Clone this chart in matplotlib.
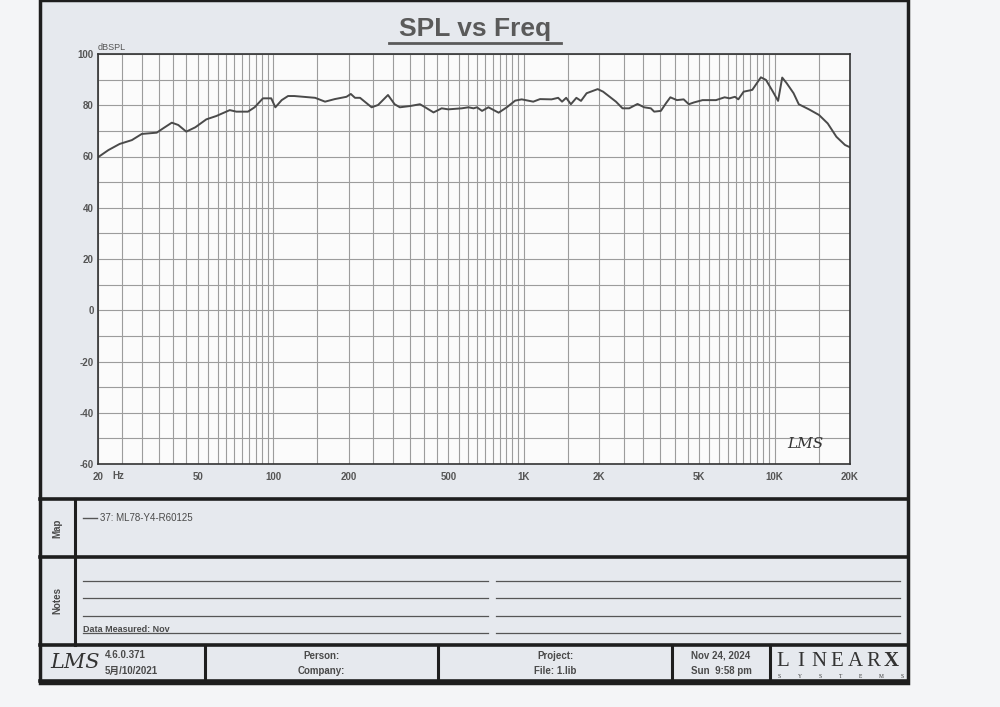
import matplotlib.pyplot as plt
from matplotlib.patches import Rectangle

# SPL curve (Hz, dBSPL)
freq = [20, 22, 24.4, 27.3, 29.9, 34.3, 36.4, 39.4, 41.8, 45, 48.9, 54.1, 59.3,
        67.1, 71.3, 79.3, 84.3, 91, 98.2, 102, 108.1, 114.6, 121.4, 147, 161,
        176, 196, 204, 212, 222, 247, 262, 287, 305, 320, 352, 385, 404, 436,
        470, 499, 565, 601, 630, 650, 681, 722, 793, 855, 923, 980, 1090,
        1160, 1290, 1370, 1420, 1475, 1540, 1620, 1690, 1780, 1970, 2070, 2200,
        2330, 2475, 2630, 2840, 3020, 3210, 3310, 3520, 3690, 3840, 4080, 4340,
        4550, 4770, 5160, 5840, 6320, 6620, 6950, 7170, 7530, 8150, 8820, 9240,
        9850, 10330, 10730, 11180, 11910, 12490, 13720, 15050, 16300, 17650,
        19100, 20000]
spl = [59.7, 62.5, 64.9, 66.4, 68.8, 69.3, 71.0, 73.2, 72.3, 69.7, 71.4, 74.5,
       75.8, 78.1, 77.5, 77.5, 79.2, 82.7, 82.7, 79.2, 82.0, 83.6, 83.6, 82.9,
       81.4, 82.4, 83.3, 84.4, 82.9, 82.9, 79.2, 80.1, 84.0, 80.4, 79.2, 79.7,
       80.4, 79.2, 77.2, 78.8, 78.4, 78.8, 79.2, 78.8, 79.2, 77.8, 79.2, 77.1,
       79.2, 81.8, 82.3, 81.4, 82.4, 82.3, 82.9, 81.4, 82.9, 80.4, 82.9, 81.7,
       84.7, 86.3, 85.3, 83.3, 81.4, 78.8, 78.8, 80.5, 79.2, 78.8, 77.5, 77.8,
       80.8, 83.1, 82.0, 82.3, 80.4, 81.1, 82.0, 82.0, 83.1, 82.7, 83.3, 82.3,
       85.3, 86.0, 90.9, 89.9, 85.3, 81.7, 90.8, 88.6, 84.7, 80.4, 78.4, 76.2,
       72.9, 67.7, 64.5, 63.6]

grid_freqs = ([f for f in range(25, 101, 5)] + [f for f in range(150, 1001, 50)]
              + [f for f in range(1500, 10001, 500)] + [15000])
xtick_vals = [20, 50, 100, 200, 500, 1000, 2000, 5000, 10000, 20000]
xtick_text = ['20', '50', '100', '200', '500', '1K', '2K', '5K', '10K', '20K']
ytick_vals = [-60, -40, -20, 0, 20, 40, 60, 80, 100]

W, H = 1000, 707
fig = plt.figure(figsize=(10, 7.07), dpi=100)
fig.patch.set_facecolor('#f4f5f7')

# page overlay in pixel coordinates
bg = fig.add_axes([0, 0, 1, 1], zorder=-1)
bg.set_xlim(0, W)
bg.set_ylim(H, 0)
bg.axis('off')
bg.add_patch(Rectangle((40, 0), 868, 683, facecolor='#e6e9ee', edgecolor='#1e1e1e', lw=2.5))

dark = '#1e1e1e'
txt = '#4a4a4a'
for y in [499, 557, 645]:
    bg.plot([40, 908], [y, y], color=dark, lw=2.6)
bg.plot([40, 908], [681, 681], color=dark, lw=2.6)
bg.plot([75, 75], [499, 645], color=dark, lw=2.2)
for x in [205, 438, 672, 770]:
    bg.plot([x, x], [645, 681], color=dark, lw=2.2)

# title
bg.text(475, 29, 'SPL vs Freq', ha='center', va='center', fontsize=19,
        fontweight='bold', color='#5a5a5a', family='Liberation Sans')
bg.plot([389, 561], [43, 43], color='#5a5a5a', lw=2.0)

# map / notes panels
bg.text(57, 528, 'Map', rotation=90, ha='center', va='center', fontsize=7,
        fontweight='bold', color=txt, family='Liberation Sans')
bg.text(57, 601, 'Notes', rotation=90, ha='center', va='center', fontsize=7,
        fontweight='bold', color=txt, family='Liberation Sans')
bg.plot([83, 97], [518, 518], color='#555555', lw=1)
bg.text(100, 518, '37: ML78-Y4-R60125', ha='left', va='center', fontsize=7,
        color=txt, family='Liberation Sans')
for y in [581, 598, 616, 633]:
    bg.plot([83, 488], [y, y], color='#555555', lw=0.9)
    bg.plot([496, 900], [y, y], color='#555555', lw=0.9)
bg.text(83, 629, 'Data Measured: Nov', ha='left', va='center', fontsize=6.5,
        fontweight='bold', color=txt, family='Liberation Sans')

# footer
bg.text(50, 663, 'LMS', ha='left', va='center', fontsize=15, style='italic',
        color='#333333', family='DejaVu Serif')
bg.text(105, 655, '4.6.0.371', ha='left', va='center', fontsize=7,
        fontweight='bold', color=txt, family=['Liberation Sans', 'Noto Sans CJK SC'])
bg.text(105, 671, '5月/10/2021', ha='left', va='center', fontsize=7,
        fontweight='bold', color=txt, family=['Liberation Sans', 'Noto Sans CJK SC'])
for x, a, b in [(321, 'Person:', 'Company:'), (555, 'Project:', 'File: 1.lib'),
                (721, 'Nov 24, 2024', 'Sun  9:58 pm')]:
    bg.text(x, 656, a, ha='center', va='center', fontsize=7, fontweight='bold',
            color=txt, family='Liberation Sans')
    bg.text(x, 671, b, ha='center', va='center', fontsize=7, fontweight='bold',
            color=txt, family='Liberation Sans')
for i, ch in enumerate('LINEAR'):
    bg.text(783 + i * 18, 661, ch, ha='center', va='center', fontsize=15,
            color='#333333', family='Liberation Serif')
bg.text(891, 661, 'X', ha='center', va='center', fontsize=15, fontweight='bold',
        color='#333333', family='Liberation Serif')
for i, ch in enumerate('SYSTEMS'):
    bg.text(779 + i * 20.5, 676, ch, ha='center', va='center', fontsize=4,
            color='#333333', family='Liberation Serif')

# plot
ax = fig.add_axes([98 / W, 1 - 464 / H, 752 / W, 410 / H])
ax.set_facecolor('#fbfbfb')
ax.set_xscale('log')
ax.set_xlim(20, 20000)
ax.set_ylim(-60, 100)
ax.set_xticks(xtick_vals, xtick_text)
ax.set_xticks(grid_freqs, minor=True)
ax.xaxis.set_minor_formatter(plt.NullFormatter())
ax.set_yticks(ytick_vals, [str(v) for v in ytick_vals])
ax.set_yticks(range(-50, 100, 20), minor=True)
ax.grid(True, which='both', color='#9c9c9c', lw=0.8)
ax.tick_params(which='both', length=0)
ax.tick_params(axis='x', pad=6)
ax.tick_params(axis='y', pad=3)
for lab in ax.get_xticklabels() + ax.get_yticklabels():
    lab.set_fontsize(7)
    lab.set_fontweight('bold')
    lab.set_color('#555555')
    lab.set_family('Liberation Sans')
for s in ax.spines.values():
    s.set_color('#333333')
    s.set_linewidth(1.2)

ax.plot(freq, spl, color='#4a4a4a', lw=1.4)

ax.text(0.0, 1.005, 'dBSPL', transform=ax.transAxes, ha='left', va='bottom',
        fontsize=6.5, color='#555555', family='Liberation Sans')
ax.text(0.019, -0.03, 'Hz', transform=ax.transAxes, ha='left', va='center',
        fontsize=7, fontweight='bold', color='#555555', family='Liberation Sans')
ax.text(0.965, 0.05, 'LMS', transform=ax.transAxes, ha='right', va='center',
        fontsize=11, style='italic', color='#333333', family='DejaVu Serif')

fig.savefig('out.png', dpi=100, facecolor=fig.get_facecolor())
